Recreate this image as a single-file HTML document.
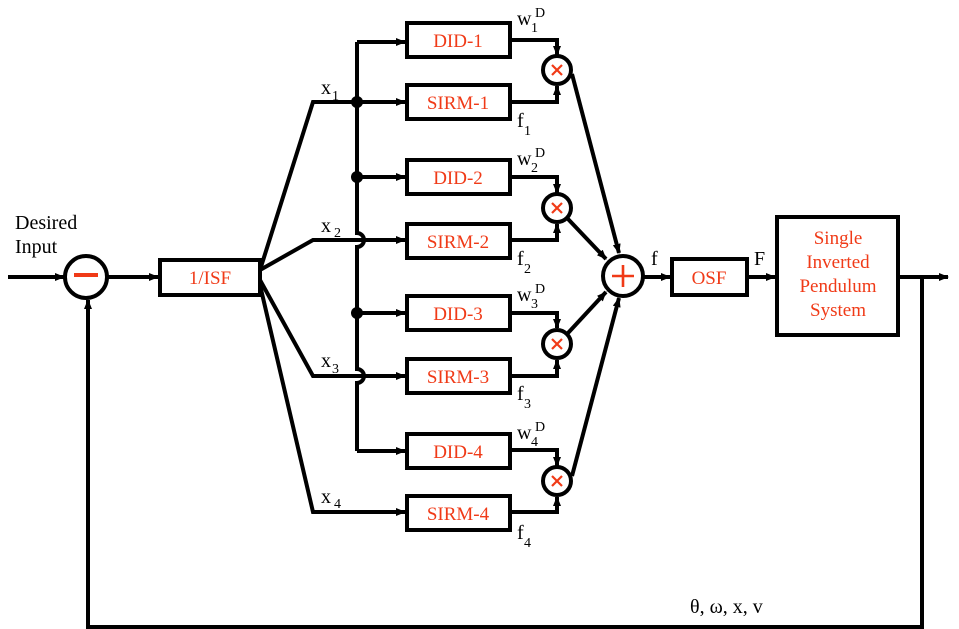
<!DOCTYPE html>
<html><head><style>body{margin:0;background:#fff}svg{display:block}</style></head><body>
<svg width="959" height="629" viewBox="0 0 959 629" xmlns="http://www.w3.org/2000/svg" font-family="Liberation Serif, serif">
<defs><marker id="a" markerWidth="10" markerHeight="8" refX="9" refY="4" orient="auto" markerUnits="userSpaceOnUse"><path d="M0,0L10,4L0,8z" fill="#000"/></marker></defs>
<g stroke="#000" stroke-width="4" fill="none">
<line x1="8" y1="277" x2="64" y2="277" marker-end="url(#a)"/>
<circle cx="86" cy="277" r="21" fill="#fff"/>
<line x1="107" y1="277" x2="158" y2="277" marker-end="url(#a)"/>
<rect x="160" y="260" width="100" height="35"/>
<polyline points="260,270 313,102 405,102" marker-end="url(#a)"/>
<polyline points="260,270 313,240 405,240" marker-end="url(#a)"/>
<polyline points="260,280 313,376 405,376" marker-end="url(#a)"/>
<polyline points="260,285 313,512 405,512" marker-end="url(#a)"/>
<path d="M357,42 V233 A7,7 0 0 1 357,247 V369 A7,7 0 0 1 357,383 V451"/>
<line x1="357" y1="42" x2="405" y2="42" marker-end="url(#a)"/>
<line x1="357" y1="177" x2="405" y2="177" marker-end="url(#a)"/>
<line x1="357" y1="313" x2="405" y2="313" marker-end="url(#a)"/>
<line x1="357" y1="451" x2="405" y2="451" marker-end="url(#a)"/>
<rect x="407" y="23" width="103" height="34"/>
<rect x="407" y="85" width="103" height="34"/>
<rect x="407" y="160" width="103" height="34"/>
<rect x="407" y="224" width="103" height="34"/>
<rect x="407" y="296" width="103" height="34"/>
<rect x="407" y="359" width="103" height="34"/>
<rect x="407" y="434" width="103" height="34"/>
<rect x="407" y="496" width="103" height="34"/>
<polyline points="510,40 557,40 557,55" marker-end="url(#a)"/>
<polyline points="510,102 557,102 557,86" marker-end="url(#a)"/>
<polyline points="510,177 557,177 557,193" marker-end="url(#a)"/>
<polyline points="510,240 557,240 557,224" marker-end="url(#a)"/>
<polyline points="510,313 557,313 557,328" marker-end="url(#a)"/>
<polyline points="510,376 557,376 557,360" marker-end="url(#a)"/>
<polyline points="510,450 557,450 557,466" marker-end="url(#a)"/>
<polyline points="510,512 557,512 557,497" marker-end="url(#a)"/>
<circle cx="557" cy="70" r="14"/>
<circle cx="557" cy="208" r="14"/>
<circle cx="557" cy="344" r="14"/>
<circle cx="557" cy="481" r="14"/>
<line x1="572" y1="74" x2="619" y2="253" marker-end="url(#a)"/>
<line x1="568" y1="219" x2="606" y2="259" marker-end="url(#a)"/>
<line x1="568" y1="333" x2="606" y2="292" marker-end="url(#a)"/>
<line x1="572" y1="476" x2="619" y2="298" marker-end="url(#a)"/>
<circle cx="623" cy="276" r="20" fill="#fff"/>
<line x1="643" y1="277" x2="670" y2="277" marker-end="url(#a)"/>
<rect x="672" y="259" width="75" height="36"/>
<line x1="747" y1="277" x2="775" y2="277" marker-end="url(#a)"/>
<rect x="777" y="217" width="121" height="118"/>
<line x1="898" y1="277" x2="948" y2="277" marker-end="url(#a)"/>
<polyline points="922,277 922,627 88,627 88,300" marker-end="url(#a)"/>
</g>
<g fill="#000">
<circle cx="357" cy="102" r="6"/><circle cx="357" cy="177" r="6"/><circle cx="357" cy="313" r="6"/>
</g>
<g fill="#f03a17" stroke="none">
<rect x="74" y="273" width="24" height="4"/>
</g>
<g stroke="#f03a17" stroke-width="2.2">
<path d="M552,65l10,10M562,65l-10,10M552,203l10,10M562,203l-10,10M552,339l10,10M562,339l-10,10M552,476l10,10M562,476l-10,10"/>
<path d="M623,265v22M612,276h22" stroke-width="2.6"/>
</g>
<g fill="#f03a17" font-size="19" text-anchor="middle">
<text x="210" y="284">1/ISF</text>
<text x="458" y="47">DID-1</text><text x="458" y="109">SIRM-1</text>
<text x="458" y="184">DID-2</text><text x="458" y="248">SIRM-2</text>
<text x="458" y="320">DID-3</text><text x="458" y="383">SIRM-3</text>
<text x="458" y="458">DID-4</text><text x="458" y="520">SIRM-4</text>
<text x="709" y="284">OSF</text>
<text x="838" y="244">Single</text><text x="838" y="268">Inverted</text><text x="838" y="292">Pendulum</text><text x="838" y="316">System</text>
</g>
<g fill="#000" font-size="20">
<text x="15" y="229">Desired</text><text x="15" y="253">Input</text>
<text x="321" y="94">x</text><text x="332" y="100" font-size="14">1</text>
<text x="321" y="232">x</text><text x="334" y="237" font-size="14">2</text>
<text x="321" y="367">x</text><text x="332" y="373" font-size="14">3</text>
<text x="321" y="503">x</text><text x="334" y="508" font-size="14">4</text>
<text x="517" y="25">w</text><text x="531" y="32" font-size="14">1</text><text x="535" y="17" font-size="14">D</text>
<text x="517" y="165">w</text><text x="531" y="172" font-size="14">2</text><text x="535" y="157" font-size="14">D</text>
<text x="517" y="301">w</text><text x="531" y="308" font-size="14">3</text><text x="535" y="293" font-size="14">D</text>
<text x="517" y="439">w</text><text x="531" y="446" font-size="14">4</text><text x="535" y="431" font-size="14">D</text>
<text x="517" y="127">f</text><text x="524" y="135" font-size="14">1</text>
<text x="517" y="265">f</text><text x="524" y="273" font-size="14">2</text>
<text x="517" y="400">f</text><text x="524" y="408" font-size="14">3</text>
<text x="517" y="539">f</text><text x="524" y="547" font-size="14">4</text>
<text x="651" y="265">f</text>
<text x="754" y="265">F</text>
<text x="690" y="613">θ, ω, x, v</text>
</g>
</svg>
</body></html>
